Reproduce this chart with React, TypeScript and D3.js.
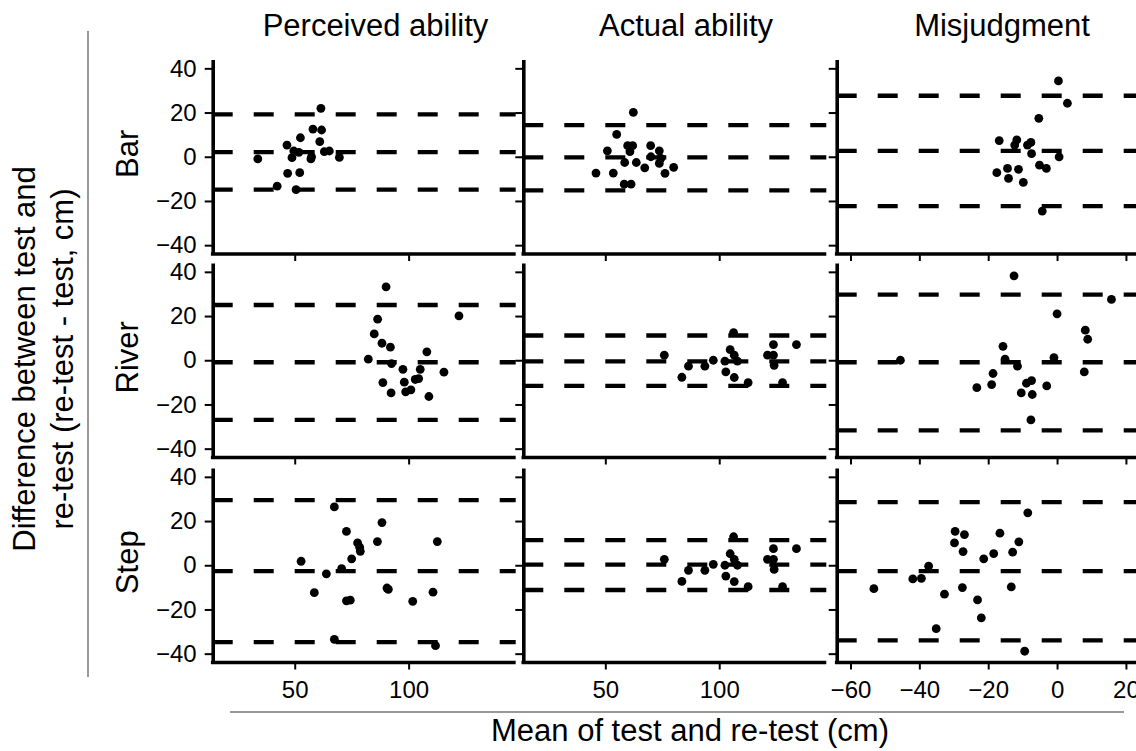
import * as d3 from 'd3';
import React, { useEffect, useRef } from 'react';

// column / row labels
const methods = ['Perceived ability', 'Actual ability', 'Misjudgment'];
const tasks = ['Bar', 'River', 'Step'];

// tick values
const yTicks = [-40, -20, 0, 20, 40];
const abilityTicks = [50, 100];
const misjudgTicks = [-60, -40, -20, 0, 20];

// [mean, difference] per participant
const barPerceived = [[61.5, 21.9], [58.0, 12.5], [61.8, 12.1], [52.5, 8.6], [61.0, 6.8], [46.6, 5.3], [49.6, 2.6], [51.8, 2.0], [63.0, 2.3], [65.2, 2.6], [33.8, -1.0], [48.8, -0.4], [57.1, -1.0], [57.4, 0.0], [69.6, -0.3], [46.9, -7.5], [52.2, -7.2], [42.3, -13.3], [50.6, -14.9]];
const barActual = [[62.3, 20.1], [55.0, 10.1], [50.9, 2.7], [59.8, 5.0], [62.0, 5.0], [60.8, 2.3], [69.9, 5.0], [73.7, 2.7], [70.0, 0.0], [73.7, -3.0], [74.4, -0.7], [58.5, -2.6], [63.6, -2.6], [67.3, -5.0], [80.0, -4.8], [76.2, -7.5], [45.9, -7.4], [53.5, -7.4], [58.3, -12.4], [61.3, -12.4]];
const barMisjudg = [[0.4, 34.3], [3.0, 24.2], [-5.3, 17.4], [-16.8, 7.3], [-11.7, 7.6], [-12.3, 5.3], [-7.6, 6.5], [-8.6, 5.3], [-7.4, 1.4], [0.6, -0.1], [-5.1, -3.8], [-3.1, -5.3], [-14.4, -5.3], [-11.2, -5.7], [-17.5, -7.2], [-14.1, -9.8], [-9.8, -11.6], [-4.3, -24.6]];

const riverPerceived = [[90.1, 33.2], [122.1, 20.1], [86.4, 18.6], [84.9, 11.9], [88.3, 7.7], [92.0, 5.9], [108.0, 3.8], [82.3, 0.5], [92.5, -1.5], [97.5, -4.1], [115.5, -5.4], [105.1, -4.1], [104.4, -8.3], [102.9, -8.7], [98.1, -9.9], [88.7, -10.1], [101.0, -13.4], [98.7, -14.3], [92.3, -14.8], [108.9, -16.4]];
const riverActual = [[75.9, 2.3], [133.9, 7.1], [123.8, 7.1], [106.3, 12.5], [104.8, 4.8], [106.6, 2.3], [108.0, -0.4], [102.5, -0.4], [97.4, 0.0], [93.7, -2.7], [86.5, -2.7], [83.6, -7.7], [102.9, -5.3], [106.6, -7.8], [112.7, -10.1], [121.2, 2.3], [123.8, 2.3], [124.1, -2.3], [127.8, -10.1]];
const riverMisjudg = [[-12.5, 38.2], [15.8, 27.5], [0.0, 21.0], [8.2, 13.6], [8.9, 9.5], [-45.5, 0.0], [-15.7, 6.3], [-15.1, 0.5], [-11.5, -2.7], [-0.9, 1.2], [-18.6, -6.0], [-19.0, -11.0], [-23.3, -12.4], [-7.4, -9.2], [-8.9, -10.4], [-10.4, -14.8], [-7.2, -15.5], [-3.0, -11.6], [7.9, -5.3], [-7.6, -27.0]];

const stepPerceived = [[67.4, 26.4], [88.3, 19.3], [72.7, 15.3], [112.6, 10.7], [86.3, 10.7], [77.6, 10.1], [78.5, 8.2], [78.8, 6.3], [75.0, 2.9], [52.8, 1.8], [70.6, -1.5], [63.9, -3.9], [58.6, -12.4], [90.5, -10.3], [91.1, -10.9], [72.7, -16.1], [74.4, -15.8], [101.8, -16.3], [110.7, -12.2], [67.4, -33.5], [111.8, -36.4]];
const stepActual = [[75.9, 2.7], [133.9, 7.5], [123.8, 7.5], [106.3, 12.9], [104.8, 5.2], [106.6, 2.7], [108.0, 0.0], [102.5, 0.0], [97.4, 0.4], [93.7, -2.3], [86.5, -2.3], [83.6, -7.3], [102.9, -4.9], [106.6, -7.4], [112.7, -9.7], [121.2, 2.7], [123.8, 2.7], [124.1, -1.9], [127.8, -9.7]];
const stepMisjudg = [[-8.5, 23.7], [-29.6, 15.3], [-26.9, 13.9], [-16.6, 14.5], [-29.8, 10.1], [-11.1, 10.6], [-27.3, 6.2], [-18.4, 5.3], [-12.9, 5.9], [-21.3, 2.9], [-37.3, -0.4], [-41.9, -6.2], [-39.4, -5.9], [-53.2, -10.6], [-32.7, -13.1], [-27.5, -10.1], [-13.3, -9.8], [-23.1, -15.7], [-22.0, -23.8], [-35.1, -28.7], [-9.4, -38.9]];

// upper limit, mean bias, lower limit
const barPerceivedLimits = [19.2, 2.1, -14.9];
const barActualLimits = [14.3, -0.3, -15.2];
const barMisjudgLimits = [27.6, 2.7, -22.3];
const riverPerceivedLimits = [25.0, -0.9, -27.0];
const riverActualLimits = [11.2, -0.5, -11.6];
const riverMisjudgLimits = [29.7, -0.9, -31.7];
const stepPerceivedLimits = [29.5, -2.7, -34.8];
const stepActualLimits = [11.4, 0.3, -11.2];
const stepMisjudgLimits = [28.6, -2.7, -34.0];

const App = () => {
  const ref = useRef(null);

  useEffect(() => {
    const width = 1136, height = 751;
    const font = '"Liberation Sans", Arial, sans-serif';

    const colLeft = [212.7, 523.3, 836.7];
    const rowTop = [59.5, 263, 468];
    const panelW = 303, panelH = 194.5;

    const points = [
      [barPerceived, barActual, barMisjudg],
      [riverPerceived, riverActual, riverMisjudg],
      [stepPerceived, stepActual, stepMisjudg],
    ];
    const limits = [
      [barPerceivedLimits, barActualLimits, barMisjudgLimits],
      [riverPerceivedLimits, riverActualLimits, riverMisjudgLimits],
      [stepPerceivedLimits, stepActualLimits, stepMisjudgLimits],
    ];
    const xDomains = [[14, 147], [14, 147], [-64, 24]];
    const xTicks = [abilityTicks, abilityTicks, misjudgTicks];

    const root = d3.select(ref.current);
    root.selectAll('*').remove();
    const svg = root.append('svg')
      .attr('width', width)
      .attr('height', height)
      .style('position', 'absolute')
      .style('left', 0)
      .style('top', 0)
      .style('background', '#fff')
      .style('font-family', font);

    tasks.forEach((task, r) => {
      methods.forEach((m, c) => {
        const x = d3.scaleLinear().domain(xDomains[c]).range([colLeft[c], colLeft[c] + panelW]);
        const y = d3.scaleLinear().domain([-44, 44]).range([rowTop[r] + panelH, rowTop[r]]);
        const g = svg.append('g');

        // limits of agreement
        g.selectAll('line.lim')
          .data(limits[r][c])
          .join('line')
          .attr('class', 'lim')
          .attr('x1', x.range()[0])
          .attr('x2', x.range()[1])
          .attr('y1', d => y(d))
          .attr('y2', d => y(d))
          .attr('stroke', '#000')
          .attr('stroke-width', 4.3)
          .attr('stroke-dasharray', '20 21');

        // participants
        g.selectAll('circle')
          .data(points[r][c])
          .join('circle')
          .attr('cx', d => x(d[0]))
          .attr('cy', d => y(d[1]))
          .attr('r', 4.4)
          .attr('fill', '#000');

        // y axis
        const ya = g.append('g')
          .attr('transform', `translate(${x.range()[0]},0)`)
          .call(d3.axisLeft(y).tickValues(yTicks).tickSize(8).tickSizeOuter(0)
            .tickFormat(c === 0 ? d3.format('d') : () => ''));
        ya.select('.domain').attr('stroke-width', 3.6);
        ya.selectAll('.tick line').attr('stroke-width', 2);
        ya.selectAll('.tick text').attr('font-size', 24).attr('font-family', font).attr('fill', '#000').attr('x', -16);

        // x axis
        const xa = g.append('g')
          .attr('transform', `translate(0,${y.range()[0]})`)
          .call(d3.axisBottom(x).tickValues(xTicks[c]).tickSize(7).tickSizeOuter(0)
            .tickFormat(r === 2 ? d3.format('d') : () => ''));
        xa.select('.domain').attr('stroke-width', 3.6).attr('d', `M${x.range()[0] - 1.8},0H${x.range()[1]}`);
        xa.selectAll('.tick line').attr('stroke-width', 2);
        xa.selectAll('.tick text').attr('font-size', 24).attr('font-family', font).attr('fill', '#000').attr('y', 18);
      });

      // row label
      svg.append('text')
        .attr('transform', `translate(138,${rowTop[r] + panelH / 2 - 3}) rotate(-90)`)
        .attr('text-anchor', 'middle')
        .attr('font-size', 31)
        .text(task);
    });

    // column titles
    const titleX = [375.5, 686, 1002];
    methods.forEach((m, c) => {
      svg.append('text')
        .attr('x', titleX[c])
        .attr('y', 36)
        .attr('text-anchor', 'middle')
        .attr('font-size', 31)
        .text(m);
    });

    // y title
    svg.append('text')
      .attr('transform', 'translate(35,359) rotate(-90)')
      .attr('text-anchor', 'middle')
      .attr('font-size', 31)
      .text('Difference between test and');
    svg.append('text')
      .attr('transform', 'translate(73,359) rotate(-90)')
      .attr('text-anchor', 'middle')
      .attr('font-size', 31)
      .text('re-test (re-test - test, cm)');

    // x title
    svg.append('text')
      .attr('x', 690)
      .attr('y', 741)
      .attr('text-anchor', 'middle')
      .attr('font-size', 31)
      .text('Mean of test and re-test (cm)');

    // grey separators
    svg.append('line')
      .attr('x1', 88).attr('x2', 88).attr('y1', 31).attr('y2', 677)
      .attr('stroke', '#999').attr('stroke-width', 2);
    svg.append('line')
      .attr('x1', 230).attr('x2', 1124).attr('y1', 712).attr('y2', 712)
      .attr('stroke', '#999').attr('stroke-width', 2);
  }, []);

  return <div ref={ref} />;
};

export default App;
